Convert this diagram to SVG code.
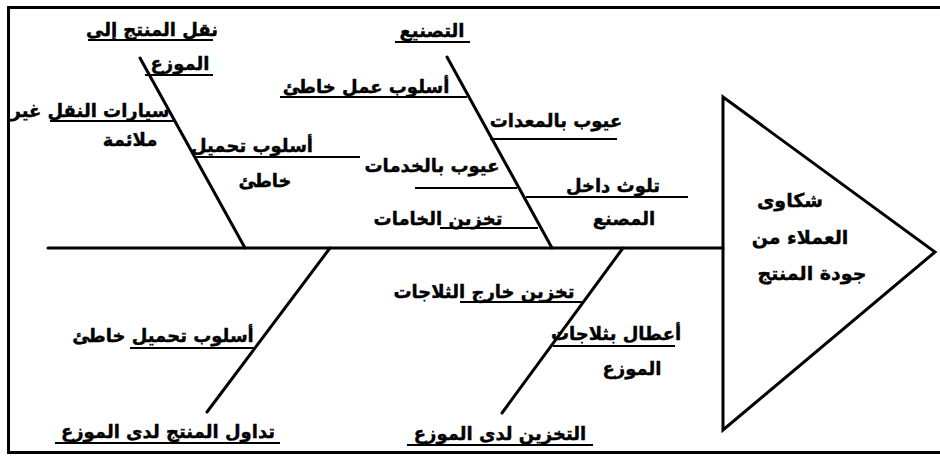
<svg xmlns="http://www.w3.org/2000/svg" width="940" height="456" viewBox="0 0 940 456">
<style>
text{font-family:"DejaVu Sans","Noto Sans",sans-serif;font-weight:bold;font-size:18px;fill:#000;text-anchor:middle;stroke:#000;stroke-width:0.4}
.h{font-size:19px}
.b{stroke:#000;stroke-width:3;fill:none;stroke-linecap:round}
.s{stroke:#000;stroke-width:2;fill:none}
.f{stroke:#000;stroke-width:3;fill:none}
</style>
<rect width="940" height="456" fill="#fff"/>
<path class="f" d="M940 7.5H8.5V452.5H940"/>
<g id="connectors">
<line class="b" x1="48" y1="248" x2="723" y2="248"/>
<line class="b" x1="140" y1="58" x2="245" y2="248"/>
<line class="b" x1="447" y1="57" x2="552" y2="248"/>
<line class="b" x1="330" y1="248" x2="207" y2="412"/>
<line class="b" x1="623" y1="248" x2="502" y2="413"/>
<line class="s" x1="50" y1="121" x2="174" y2="121"/>
<line class="s" x1="196" y1="157" x2="360" y2="157"/>
<line class="s" x1="280" y1="97" x2="467" y2="97"/>
<line class="s" x1="490" y1="139" x2="617" y2="139"/>
<line class="s" x1="415" y1="188" x2="517" y2="188"/>
<line class="s" x1="526" y1="197" x2="688" y2="197"/>
<line class="s" x1="440" y1="228" x2="538" y2="228"/>
<line class="s" x1="130" y1="348" x2="256" y2="348"/>
<line class="s" x1="460" y1="302" x2="583" y2="302"/>
<line class="s" x1="553" y1="346" x2="675" y2="346"/>
</g>
<g id="head">
<path class="b" d="M723 97V430L935 252Z" stroke-linejoin="miter"/>
<text class="h" x="790" y="207">شكاوى</text>
<text class="h" x="800" y="244">العملاء من</text>
<text class="h" x="812" y="280">جودة المنتج</text>
</g>
<g id="cause-transport">
<text x="152" y="36">نقل المنتج إلى</text>
<line class="s" x1="88" y1="40" x2="213" y2="40"/>
<text x="180" y="70">الموزع</text>
<line class="s" x1="145" y1="75" x2="213" y2="75"/>
</g>
<g id="sub-vehicles">
<text x="90" y="117">سيارات النقل غير</text>
<text x="130" y="146">ملائمة</text>
</g>
<g id="sub-loading-top">
<text x="252" y="152">أسلوب تحميل</text>
<text x="265" y="187">خاطئ</text>
</g>
<g id="cause-manufacturing">
<text x="432" y="37">التصنيع</text>
<line class="s" x1="395" y1="42" x2="470" y2="42"/>
</g>
<g id="sub-work-method"><text x="366" y="93">أسلوب عمل خاطئ</text></g>
<g id="sub-equipment"><text x="556" y="127">عيوب بالمعدات</text></g>
<g id="sub-services"><text x="432" y="172">عيوب بالخدمات</text></g>
<g id="sub-contamination">
<text x="613" y="192">تلوث داخل</text>
<text x="624" y="225">المصنع</text>
</g>
<g id="sub-raw-storage"><text x="438" y="225">تخزين الخامات</text></g>
<g id="sub-loading-bottom"><text x="163" y="342">أسلوب تحميل خاطئ</text></g>
<g id="cause-handling">
<text x="168" y="438">تداول المنتج لدى الموزع</text>
<line class="s" x1="55" y1="443" x2="280" y2="443"/>
</g>
<g id="sub-outside-fridge"><text x="484" y="298">تخزين خارج الثلاجات</text></g>
<g id="sub-fridge-faults">
<text x="616" y="340">أعطال بثلاجات</text>
<text x="632" y="375">الموزع</text>
</g>
<g id="cause-dist-storage">
<text x="500" y="440">التخزين لدى الموزع</text>
<line class="s" x1="407" y1="445" x2="593" y2="445"/>
</g>
</svg>
